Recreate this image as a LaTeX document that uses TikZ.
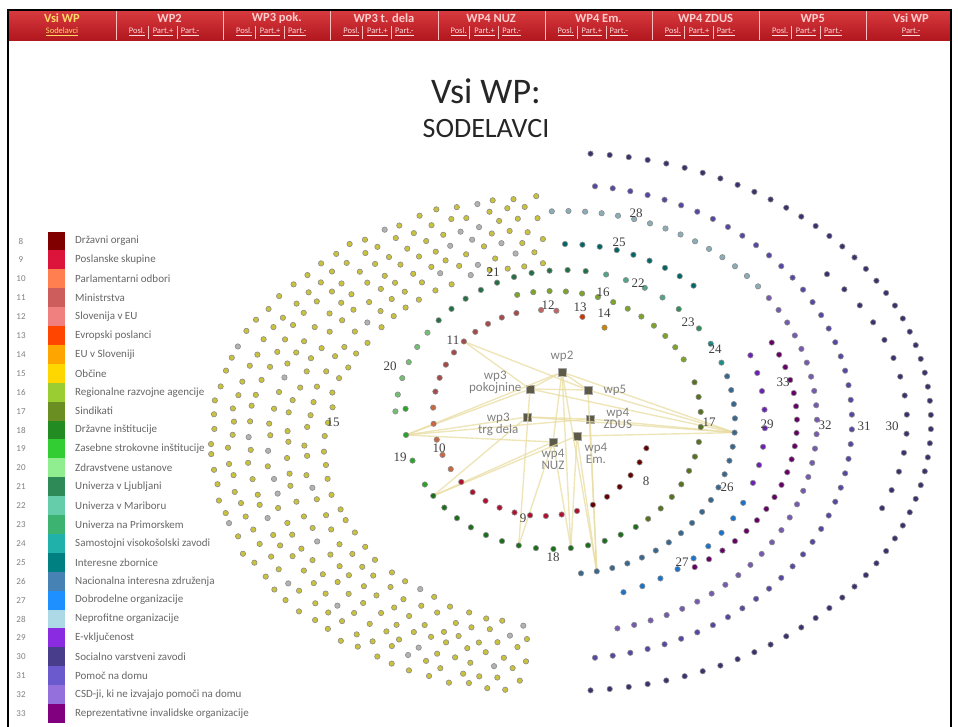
\documentclass[tikz,border=0pt]{standalone}
\usepackage{fontspec}
\setmainfont{Carlito}
\newfontfamily\numfont{Liberation Serif}
\usetikzlibrary{positioning}

\definecolor{cat8}{HTML}{800000}
\definecolor{cat9}{HTML}{DC143C}
\definecolor{cat10}{HTML}{FF7F50}
\definecolor{cat11}{HTML}{CD5C5C}
\definecolor{cat12}{HTML}{F08080}
\definecolor{cat13}{HTML}{FF4500}
\definecolor{cat14}{HTML}{FFA500}
\definecolor{cat15}{HTML}{FFD700}
\definecolor{cat16}{HTML}{9ACD32}
\definecolor{cat17}{HTML}{6B8E23}
\definecolor{cat18}{HTML}{228B22}
\definecolor{cat19}{HTML}{32CD32}
\definecolor{cat20}{HTML}{90EE90}
\definecolor{cat21}{HTML}{2E8B57}
\definecolor{cat22}{HTML}{66CDAA}
\definecolor{cat23}{HTML}{3CB371}
\definecolor{cat24}{HTML}{20B2AA}
\definecolor{cat25}{HTML}{008080}
\definecolor{cat26}{HTML}{4682B4}
\definecolor{cat27}{HTML}{1E90FF}
\definecolor{cat28}{HTML}{ADD8E6}
\definecolor{cat29}{HTML}{8A2BE2}
\definecolor{cat30}{HTML}{483D8B}
\definecolor{cat31}{HTML}{6A5ACD}
\definecolor{cat32}{HTML}{9370DB}
\definecolor{cat33}{HTML}{800080}
\definecolor{bannertop}{HTML}{D63A3E}
\definecolor{bannerbot}{HTML}{B3171F}
\definecolor{gold}{HTML}{FFD966}
\definecolor{linkcol}{HTML}{E8DCA2}
\definecolor{hubfill}{HTML}{5E5A48}
\definecolor{bandfill}{HTML}{C9C23A}

\tikzset{
  ringdot/.style={draw=black!45, line width=0.6pt},
  hub/.style={rectangle, draw=gray!70, fill=hubfill, minimum size=8pt, inner sep=0pt, line width=0.8pt},
  hublabel/.style={text=black!50, font=\fontsize{13}{12}\selectfont, align=center, inner sep=1pt},
  link/.style={draw=linkcol, line width=1.4pt, opacity=0.75},
  catnum/.style={font=\numfont\fontsize{13}{13}\selectfont, text=black!75, inner sep=0pt},
  legtext/.style={font=\fontsize{11}{12}\selectfont, text=black!60, inner sep=0pt, anchor=west},
  legnum/.style={font=\fontsize{9}{10}\selectfont, text=black!50, inner sep=0pt},
  headtext/.style={font=\bfseries\fontsize{12.5}{13}\selectfont, text=white!80!red, inner sep=0pt},
  subtext/.style={font=\fontsize{8.5}{9}\selectfont, text=white!85!red, inner sep=0pt},
  sepline/.style={draw=white!75!red, line width=0.6pt}
}

% dots along an elliptic arc: cx, cy, rx, ry, from, to, count, colour
\newcommand{\dotarc}[8]{%
  \foreach \dd in {1,...,#7}{%
    \pgfmathsetmacro{\ang}{#5+(#6-#5)*(\dd-1)/max(#7-1,1)}%
    \filldraw[ringdot, fill=#8!80!black] ({#1+#3*cos(\ang)},{#2-#4*sin(\ang)}) circle[radius=2.7pt];
  }}

\begin{document}
\begin{tikzpicture}[x=1pt, y=-1pt]
\useasboundingbox (0,0) rectangle (958,726);

% banner
\shade[top color=bannertop, bottom color=bannerbot] (9,11) rectangle (950,40);
\foreach \sx in {116,223,330,438,545,652,759,866}
  \draw[sepline] (\sx,11) -- (\sx,40);
\node[headtext, text=gold] (hd0) at (62,18) {Vsi WP};
\node[subtext, text=gold] (sub0) at (62,32) {\underline{Sodelavci}};
\foreach \hd [count=\ci from 1] in {WP2, WP3 pok., WP3 t. dela, WP4 NUZ, WP4 Em., WP4 ZDUS, WP5}{
  \pgfmathsetmacro{\xc}{8.8+107.2*\ci}
  \node[headtext] (hd\ci) at (\xc+53.6,18) {\hd};
  \node[subtext] (posl\ci) at (\xc+21,32) {\underline{Posl.}};
  \node[subtext] (pplus\ci) at (\xc+47,32) {\underline{Part.+}};
  \node[subtext] (pminus\ci) at (\xc+74,32) {\underline{Part.-}};
  \draw[sepline] (\xc+32,26) -- (\xc+32,39);
  \draw[sepline] (\xc+61,26) -- (\xc+61,39);
}
\node[headtext] (hd8) at (911,18) {Vsi WP};
\node[subtext] (pminus8) at (911,32) {\underline{Part.-}};
\draw[line width=1.4pt] (8,730) -- (8,10) -- (951,10) -- (951,730);

% title
\node[font=\fontsize{36}{40}\selectfont, text=black!85] (title) at (486,91) {Vsi WP:};
\node[font=\fontsize{28}{30}\selectfont, text=black!85, below=9pt of title] (subtitle) {SODELAVCI};

% legend
\foreach \nr/\txt [count=\ci from 0] in {8/Državni organi, 9/Poslanske skupine,
  10/Parlamentarni odbori, 11/Ministrstva, 12/Slovenija v EU, 13/Evropski poslanci,
  14/EU v Sloveniji, 15/Občine, 16/Regionalne razvojne agencije, 17/Sindikati,
  18/Državne inštitucije, 19/Zasebne strokovne inštitucije, 20/Zdravstvene ustanove,
  21/Univerza v Ljubljani, 22/Univerza v Mariboru, 23/Univerza na Primorskem,
  24/Samostojni visokošolski zavodi, 25/Interesne zbornice,
  26/Nacionalna interesna združenja, 27/Dobrodelne organizacije,
  28/Neprofitne organizacije, 29/E-vključenost, 30/Socialno varstveni zavodi,
  31/Pomoč na domu, 32/{CSD-ji, ki ne izvajajo pomoči na domu},
  33/Reprezentativne invalidske organizacije}{
  \pgfmathsetmacro{\yy}{241+18.9*\ci}
  \fill[cat\nr] (48,\yy-9.45) rectangle (65,\yy+9.45);
  \node[legnum] (num\nr) at (21,\yy) {\nr};
  \node[legtext] (leg\nr) at (75,\yy) {\txt};
}

% edge ends on the rings
\coordinate (t11) at ({543+110*cos(136)},{413-103*sin(136)});
\coordinate (tl) at ({553+148*cos(186.67)},{420-129*sin(186.67)});
\coordinate (tll) at ({553+148*cos(-144)},{420-129*sin(-144)});
\coordinate (b1) at ({553+148*cos(-103.38)},{420-129*sin(-103.38)});
\coordinate (b2) at ({553+148*cos(-83.08)},{420-129*sin(-83.08)});
\coordinate (tr) at ({565+170*cos(-3.99)},{422-152*sin(-3.99)});
\coordinate (b3) at ({565+170*cos(-79.23)},{422-152*sin(-79.23)});

% hubs
\node[hub] (wp2) at (562,372) {};
\node[hub] (wp3pok) at (530,389) {};
\node[hub] (wp5) at (588,390) {};
\node[hub] (wp3trg) at (527,417) {};
\node[hub] (wp4zdus) at (590,419) {};
\node[hub] (wp4nuz) at (553,442) {};
\node[hub] (wp4em) at (577,436) {};

\foreach \a/\b in {wp2/tl, wp2/tr, wp2/b2, wp2/b3, wp2/wp3pok, wp2/wp5, wp2/wp4nuz,
  wp3pok/t11, wp3pok/tl, wp3pok/tr, wp3pok/b1, wp3pok/wp5,
  wp5/t11, wp5/tr, wp5/b3,
  wp3trg/tl, wp3trg/tll, wp3trg/tr, wp3trg/wp4zdus,
  wp4zdus/tr, wp4zdus/tl, wp4zdus/b3,
  wp4nuz/tl, wp4nuz/tll, wp4nuz/b1, wp4nuz/b2,
  wp4em/tr, wp4em/b2, wp4em/b3, wp4em/tll}
  \draw[link] (\a) -- (\b);

% Obcine band
\pgfmathsetseed{7}
\foreach \rw in {0,...,6}{
  \pgfmathsetmacro{\rx}{240+19*\rw}
  \pgfmathsetmacro{\ry}{183+11.2*\rw}
  \pgfmathtruncatemacro{\nd}{(\rx+\ry)/2*2.91/17}
  \foreach \dd in {0,...,\nd}{
    \pgfmathsetmacro{\ang}{95+167*(\dd+0.5*mod(\rw,2))/(\nd+0.5)}
    \pgfmathtruncatemacro{\gr}{rnd<0.1}
    \ifnum\gr=1 \def\dc{gray!60}\else\def\dc{bandfill}\fi
    \filldraw[ringdot, fill=\dc] ({565+\rx*cos(\ang)+2.5*rand},{445-\ry*sin(\ang)+2.5*rand}) circle[radius=2.7pt];
  }
}

% ring 1
\dotarc{543}{413}{110}{103}{56}{56}{1}{cat14}
\dotarc{543}{413}{110}{103}{69}{69}{1}{cat13}
\dotarc{543}{413}{110}{103}{83}{91}{2}{cat12}
\dotarc{543}{413}{110}{103}{104}{168}{9}{cat11}
\dotarc{543}{413}{110}{103}{177}{213}{5}{cat10}
\dotarc{543}{413}{110}{103}{222}{288}{9}{cat9}
\dotarc{543}{413}{110}{103}{297}{340}{6}{cat8}
% ring 2
\dotarc{553}{420}{148}{129}{104}{28}{13}{cat16}
\dotarc{553}{420}{148}{129}{17}{-50}{11}{cat17}
\dotarc{553}{420}{148}{129}{-56}{-144}{14}{cat18}
\dotarc{553}{420}{148}{129}{210}{175}{4}{cat19}
% ring 3
\dotarc{565}{422}{170}{152}{176}{144}{6}{cat20}
\dotarc{565}{422}{170}{152}{138}{83}{10}{cat21}
\dotarc{565}{422}{170}{152}{76}{55}{4}{cat22}
\dotarc{565}{422}{170}{152}{48}{38}{2}{cat23}
\dotarc{565}{422}{170}{152}{31}{23}{2}{cat24}
\dotarc{565}{422}{170}{152}{17.5}{-84.6}{20}{cat26}
% ring 4
\dotarc{565}{422}{200}{178}{90}{50}{9}{cat25}
\dotarc{565}{422}{200}{178}{22}{-20}{8}{cat29}
\dotarc{565}{422}{200}{178}{-27}{-73}{9}{cat27}
% outer rings
\dotarc{565}{422}{232}{175}{27}{-56}{20}{cat33}
\dotarc{565}{422}{252}{211}{93}{40}{15}{cat28}
\dotarc{565}{422}{252}{211}{36}{-78}{30}{cat32}
\dotarc{565}{422}{287}{237}{84}{-84}{48}{cat31}
\dotarc{565}{422}{342}{230}{40}{-22}{14}{cat30}
\dotarc{565}{422}{366}{269}{86}{-86}{58}{cat30}

% hub labels
\node[hublabel, above=5pt of wp2] (lwp2) {wp2};
\node[hublabel, left=3pt of wp3pok, yshift=7pt] (lwp3pok) {wp3\\pokojnine};
\node[hublabel, right=10pt of wp5] (lwp5) {wp5};
\node[hublabel, left=3pt of wp3trg, yshift=-7pt] (lwp3trg) {wp3\\trg dela};
\node[hublabel, right=8pt of wp4zdus, yshift=1pt] (lwp4zdus) {wp4\\ZDUS};
\node[hublabel, below=2pt of wp4nuz] (lwp4nuz) {wp4\\NUZ};
\node[hublabel, below right=2pt and 2pt of wp4em] (lwp4em) {wp4\\Em.};

% category numbers
\foreach \nm/\px/\py in {8/646/481, 9/523/518, 10/439/448, 11/453/340, 12/548/305,
  13/580/307, 14/604/313, 15/333/422, 16/603/292, 17/709/422, 18/553/557, 19/400/457,
  20/390/366, 21/493/272, 22/638/283, 23/688/322, 24/715/349, 25/619/242, 26/727/487,
  27/682/562, 28/636/213, 29/767/424, 30/892/426, 31/864/426, 32/825/425, 33/783/382}
  \node[catnum] (lab\nm) at (\px,\py) {\nm};
\end{tikzpicture}
\end{document}
